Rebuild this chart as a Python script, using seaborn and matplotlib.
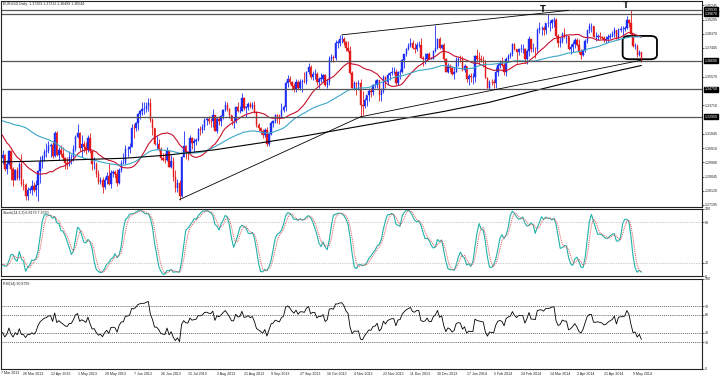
import numpy as np
import pandas as pd
import matplotlib
matplotlib.use("Agg")
import matplotlib.pyplot as plt
import seaborn as sns
from matplotlib.patches import FancyBboxPatch

sns.set_theme(style="white")
plt.rcParams['font.family'] = ['Liberation Sans', 'DejaVu Sans']

# ---------------- data (EURUSD daily) ----------------
history_start = "2012-12-03"   # closes before the candles, used for the averages/RSI
start_date = "2013-02-19"
end_date = "2014-05-15"

history_close = [
 1.3055,1.3115,1.3065,1.2930,1.2925, 1.2945,1.3005,1.3075,1.3070,1.3160, 1.3165,1.3245,1.3275,1.3235,1.3185,
 1.3220,1.3220,1.3230,1.3220,1.3215, 1.3195,
 1.3200,1.3180,1.3050,1.3065, 1.3115,1.3080,1.3065,1.3275,1.3365, 1.3385,1.3315,1.3290,1.3385,1.3315,
 1.3325,1.3320,1.3310,1.3385,1.3460, 1.3450,1.3485,1.3565,1.3580,
 1.3640, 1.3510,1.3525,1.3525,1.3400,1.3365, 1.3395,1.3450,1.3455,1.3360,1.3360, 1.3360,
]

close = [
 1.3390,1.3280,1.3190,1.3190,1.3060,1.3060,1.3130,1.3055,1.3020,1.3020,1.3050,1.2985,
 1.3105,1.3005, 1.3025,1.3045,1.2955,1.2990,1.3075, 1.2955,1.2880,1.2945,1.2895,1.2990, 1.2855,1.2850,1.2775,1.2820,1.2820,
 1.2845,1.2815,1.2850,1.2940,1.3000, 1.3035,1.3065,1.3075,1.3105,1.3110, 1.3040,1.3190,1.3045,1.3080,1.3050, 1.3025,1.2995,1.2985,1.3030,1.3030, 1.3085,1.3165,
 1.3190,1.3090,1.3115, 1.3100,1.3080,1.3160,1.3070,1.2985, 1.2990,1.2920,1.2870,1.2880,1.2835, 1.2880,1.2910,1.2855,1.2930,1.2935, 1.2925,1.2860,1.2945,1.2995,1.2995,
 1.3085,1.3085,1.3100,1.3225,1.3220, 1.3255,1.3315,1.3335,1.3345,1.3345, 1.3365,1.3385,1.3275,1.3220,1.3120, 1.3120,1.3085,1.3025,1.3015,1.3010,
 1.3075,1.2970,1.3005,1.2905,1.2830, 1.2860,1.2775,1.3030,1.3105,1.3065, 1.3060,1.3160,1.3125,1.3135,1.3145, 1.3215,1.3210,1.3230,1.3275,1.3280, 1.3270,1.3265,1.3305,
 1.3205,1.3280, 1.3265,1.3300,1.3340,1.3375,1.3345, 1.3310,1.3265,1.3265,1.3360,1.3330, 1.3335,1.3420,1.3355,1.3360,1.3380, 1.3360,1.3375,1.3325,1.3240,1.3220,
 1.3200,1.3175,1.3210,1.3115,1.3180, 1.3255,1.3265,1.3305,1.3295,1.3285, 1.3340,1.3360,1.3515,1.3545,1.3525, 1.3495,1.3475,1.3525,1.3485,1.3525, 1.3525,
 1.3520,1.3585,1.3620,1.3555, 1.3575,1.3575,1.3525,1.3545,1.3545, 1.3565,1.3505,1.3525,1.3675,1.3685, 1.3680,1.3780,1.3780,1.3800,1.3805, 1.3785,1.3745,1.3725,1.3580,
 1.3485, 1.3515,1.3510,1.3515,1.3375,1.3365, 1.3405,1.3435,1.3465,1.3460,1.3500, 1.3505,1.3535,1.3440,1.3465,1.3555, 1.3520,1.3565,1.3580,1.3590,1.3590,
 1.3515,1.3585,1.3590,1.3665,1.3705, 1.3740,1.3760,1.3780,1.3745,1.3740, 1.3765,1.3765,1.3680,1.3670,1.3675, 1.3705,1.3675,1.3675,1.3725,1.3745, 1.3800,1.3745,
 1.3765,1.3670,1.3590, 1.3630,1.3615,1.3575,1.3590,1.3665, 1.3675,1.3670,1.3600,1.3625,1.3540, 1.3560,1.3555,1.3555,1.3690,1.3675, 1.3670,1.3665,1.3660,1.3550,1.3485,
 1.3525,1.3520,1.3515,1.3590,1.3635, 1.3645,1.3635,1.3590,1.3675,1.3695, 1.3705,1.3770,1.3735,1.3715,1.3740, 1.3740,1.3740,1.3675,1.3725,1.3805,
 1.3740,1.3740,1.3735,1.3865,1.3875, 1.3875,1.3865,1.3905,1.3905,1.3910, 1.3925,1.3930,1.3825,1.3780,1.3790, 1.3835,1.3825,1.3825,1.3740,1.3750, 1.3770,
 1.3795,1.3765,1.3715,1.3700, 1.3730,1.3790,1.3860,1.3885,1.3885, 1.3815,1.3815,1.3820,1.3815,1.3810, 1.3795,1.3800,1.3815,1.3825,1.3835, 1.3860,1.3810,1.3865,
 1.3870,1.3870, 1.3875,1.3925,1.3905,1.3835,1.3755, 1.3760,1.3700,1.3720,1.36544,
]
high = [
 1.3400,1.3405,1.3290,1.3245,1.3320,1.3090,1.3160,1.3145,1.3060,1.3055,1.3065,1.3085,
 1.3115,1.3110, 1.3045,1.3080,1.3055,1.3010,1.3080, 1.2970,1.2965,1.2955,1.2965,1.3000, 1.3050,1.2890,1.2865,1.2840,1.2840,
 1.2880,1.2870,1.2880,1.2950,1.3040, 1.3045,1.3085,1.3125,1.3140,1.3125, 1.3135,1.3200,1.3205,1.3100,1.3110, 1.3095,1.3035,1.3030,1.3070,1.3055, 1.3110,1.3175,
 1.3245,1.3195,1.3175, 1.3135,1.3130,1.3175,1.3190,1.3075, 1.3030,1.3000,1.2950,1.2905,1.2900, 1.2905,1.2935,1.2995,1.2945,1.2950, 1.2945,1.2955,1.2960,1.3010,1.3060,
 1.3110,1.3105,1.3125,1.3250,1.3245, 1.3260,1.3320,1.3340,1.3390,1.3390, 1.3395,1.3415,1.3415,1.3285,1.3225, 1.3170,1.3150,1.3095,1.3060,1.3060,
 1.3095,1.3080,1.3045,1.3035,1.2945, 1.2890,1.2885,1.3040,1.3205,1.3110, 1.3075,1.3175,1.3165,1.3155,1.3160, 1.3220,1.3235,1.3245,1.3285,1.3295, 1.3300,1.3285,1.3345,
 1.3310,1.3295, 1.3295,1.3305,1.3345,1.3400,1.3390, 1.3350,1.3310,1.3295,1.3365,1.3395, 1.3365,1.3450,1.3425,1.3365,1.3395, 1.3395,1.3390,1.3400,1.3335,1.3255,
 1.3230,1.3215,1.3220,1.3230,1.3190, 1.3265,1.3275,1.3315,1.3315,1.3315, 1.3385,1.3370,1.3530,1.3570,1.3560, 1.3530,1.3515,1.3540,1.3535,1.3545, 1.3545,
 1.3585,1.3595,1.3645,1.3635, 1.3595,1.3605,1.3590,1.3555,1.3580, 1.3575,1.3575,1.3540,1.3690,1.3705, 1.3700,1.3795,1.3795,1.3830,1.3830, 1.3815,1.3790,1.3790,1.3760,
 1.3595, 1.3530,1.3525,1.3535,1.3545,1.3465, 1.3420,1.3440,1.3485,1.3480,1.3510, 1.3535,1.3545,1.3530,1.3480,1.3565, 1.3560,1.3580,1.3590,1.3620,1.3620,
 1.3605,1.3595,1.3610,1.3675,1.3705, 1.3745,1.3775,1.3810,1.3795,1.3775, 1.3785,1.3790,1.3810,1.3695,1.3710, 1.3710,1.3715,1.3685,1.3730,1.3895, 1.3810,1.3815,
 1.3770,1.3775,1.3680, 1.3645,1.3640,1.3625,1.3620,1.3685, 1.3685,1.3700,1.3690,1.3640,1.3625, 1.3575,1.3580,1.3580,1.3700,1.3740, 1.3720,1.3700,1.3690,1.3665,1.3555,
 1.3535,1.3540,1.3540,1.3620,1.3645, 1.3665,1.3685,1.3645,1.3685,1.3705, 1.3715,1.3775,1.3775,1.3740,1.3745, 1.3770,1.3770,1.3745,1.3735,1.3825,
 1.3790,1.3775,1.3750,1.3875,1.3915, 1.3885,1.3885,1.3910,1.3967,1.3925, 1.3935,1.3945,1.3940,1.3835,1.3815, 1.3850,1.3875,1.3835,1.3815,1.3770, 1.3790,
 1.3810,1.3810,1.3805,1.3740, 1.3735,1.3800,1.3865,1.3905,1.3905, 1.3885,1.3850,1.3835,1.3850,1.3825, 1.3825,1.3825,1.3835,1.3840,1.3855, 1.3880,1.3865,1.3875,
 1.3885,1.3890, 1.3885,1.3950,1.3935,1.3993,1.3835, 1.3775,1.3770,1.3730,1.37212,
]
low = [
 1.3320,1.3265,1.3145,1.3150,1.3040,1.2970,1.3050,1.3050,1.2965,1.2985,1.2995,1.2965,
 1.2975,1.2955, 1.2985,1.2990,1.2940,1.2925,1.2980, 1.2880,1.2845,1.2880,1.2880,1.2880, 1.2845,1.2820,1.2750,1.2750,1.2800,
 1.2785,1.2805,1.2780,1.2745,1.2865, 1.2960,1.3005,1.3035,1.3060,1.3035, 1.3025,1.3030,1.3040,1.3010,1.3040, 1.3015,1.2955,1.2955,1.2975,1.2985, 1.3005,1.3070,
 1.3160,1.3075,1.3030, 1.3065,1.3055,1.3065,1.3060,1.2950, 1.2955,1.2905,1.2855,1.2855,1.2800, 1.2825,1.2855,1.2850,1.2830,1.2905, 1.2895,1.2845,1.2855,1.2935,1.2985,
 1.2985,1.3035,1.3060,1.3095,1.3160, 1.3205,1.3210,1.3280,1.3305,1.3315, 1.3325,1.3335,1.3260,1.3175,1.3110, 1.3085,1.3075,1.3015,1.3005,1.2995,
 1.3005,1.2965,1.2960,1.2875,1.2805, 1.2805,1.2755,1.2770,1.3030,1.3020, 1.3015,1.3050,1.3085,1.3065,1.3110, 1.3140,1.3175,1.3190,1.3210,1.3240, 1.3250,1.3230,1.3230,
 1.3200,1.3190, 1.3240,1.3235,1.3280,1.3335,1.3335, 1.3290,1.3240,1.3225,1.3255,1.3325, 1.3320,1.3330,1.3340,1.3295,1.3340, 1.3350,1.3345,1.3320,1.3230,1.3205,
 1.3180,1.3160,1.3165,1.3105,1.3105, 1.3175,1.3230,1.3255,1.3255,1.3250, 1.3310,1.3325,1.3335,1.3490,1.3510, 1.3470,1.3455,1.3455,1.3475,1.3470, 1.3460,
 1.3515,1.3510,1.3575,1.3545, 1.3535,1.3545,1.3505,1.3485,1.3525, 1.3525,1.3495,1.3485,1.3505,1.3655, 1.3650,1.3665,1.3745,1.3760,1.3780, 1.3765,1.3725,1.3715,1.3575,
 1.3480, 1.3470,1.3440,1.3470,1.3295,1.3310, 1.3355,1.3365,1.3400,1.3425,1.3440, 1.3480,1.3480,1.3400,1.3400,1.3450, 1.3485,1.3505,1.3535,1.3570,1.3575,
 1.3505,1.3505,1.3545,1.3580,1.3615, 1.3690,1.3730,1.3750,1.3735,1.3710, 1.3725,1.3750,1.3680,1.3625,1.3640, 1.3660,1.3670,1.3670,1.3670,1.3715, 1.3735,1.3740,
 1.3740,1.3650,1.3585, 1.3580,1.3590,1.3570,1.3545,1.3585, 1.3630,1.3650,1.3595,1.3585,1.3525, 1.3505,1.3525,1.3510,1.3525,1.3655, 1.3640,1.3650,1.3620,1.3550,1.3480,
 1.3475,1.3500,1.3480,1.3480,1.3560, 1.3615,1.3625,1.3570,1.3560,1.3660, 1.3680,1.3695,1.3730,1.3645,1.3700, 1.3715,1.3710,1.3645,1.3640,1.3695,
 1.3715,1.3715,1.3680,1.3715,1.3845, 1.3830,1.3830,1.3835,1.3880,1.3855, 1.3875,1.3880,1.3815,1.3750,1.3750, 1.3780,1.3810,1.3780,1.3730,1.3705, 1.3720,
 1.3745,1.3755,1.3705,1.3670, 1.3690,1.3715,1.3780,1.3845,1.3850, 1.3815,1.3790,1.3795,1.3805,1.3800, 1.3785,1.3780,1.3785,1.3800,1.3815, 1.3815,1.3800,1.3795,
 1.3850,1.3820, 1.3855,1.3870,1.3880,1.3830,1.3750, 1.3735,1.3685,1.3690,1.36499,
]

ma_slow_dates = ["2013-03-07","2013-04-01","2013-05-01","2013-06-03","2013-07-01","2013-08-01",
                 "2013-09-02","2013-10-01","2013-11-01","2013-12-02","2014-01-02","2014-02-03",
                 "2014-03-03","2014-04-01","2014-05-01","2014-05-15"]
ma_slow_vals = [1.3000,1.3005,1.3015,1.3025,1.3045,1.3080,1.3125,1.3170,1.3225,1.3275,1.3330,
                1.3390,1.3460,1.3530,1.3600,1.3630]

# horizontal levels, trend lines and marks
h_levels = [1.3993, 1.3967, 1.3660, 1.3475, 1.3295]
trend_lines = [
    (("2013-07-09", 1.2755), ("2013-11-07", 1.3295)),
    (("2013-11-07", 1.3295), ("2014-05-15", 1.3665)),
    (("2013-10-25", 1.3830), ("2014-03-27", 1.3990)),
]
top_marks = [("2014-03-13", 1.3967), ("2014-05-08", 1.3993)]
box_dates = ("2014-05-07", "2014-05-15")
box_prices = (1.3671, 1.3823)

price_ticks = [1.27195,1.28120,1.29045,1.29980,1.30910,1.31845,1.33710,
               1.35570,1.37445,1.38370,1.39295,1.40245]
first_date_label = "2013-03-07"
date_labels = ["2013-03-26","2013-04-12","2013-05-01","2013-05-20","2013-06-07",
               "2013-06-26","2013-07-15","2013-08-02","2013-08-21","2013-09-09","2013-09-27",
               "2013-10-16","2013-11-04","2013-11-22","2013-12-11","2013-12-30","2014-01-17",
               "2014-02-05","2014-02-24","2014-03-14","2014-04-02","2014-04-21","2014-05-09"]

# ---------------- build frames ----------------
dates = pd.bdate_range(start_date, end_date)
assert len(dates) == len(close) == len(high) == len(low), (len(dates), len(close), len(high), len(low))
hist_dates = pd.bdate_range(history_start, dates[0] - pd.Timedelta(days=1))
assert len(hist_dates) == len(history_close), (len(hist_dates), len(history_close))

full = pd.DataFrame({"date": hist_dates.append(dates), "close": history_close + close})
full["x"] = np.arange(len(full)) - len(hist_dates)
full["ma_fast"] = full["close"].rolling(21, min_periods=1).mean()
full["ma_mid"] = full["close"].rolling(55, min_periods=1).mean()
delta = full["close"].diff().fillna(0)
up = delta.clip(lower=0).ewm(alpha=1/14, adjust=False).mean()
dn = (-delta.clip(upper=0)).ewm(alpha=1/14, adjust=False).mean()
full["rsi"] = 100 - 100 / (1 + up / dn.replace(0, np.nan))

df = pd.DataFrame({"date": dates, "close": close, "high": high, "low": low})
df["x"] = np.arange(len(df))
df["open"] = df["close"].shift(1).fillna(history_close[-1])
df.loc[df.index[-1], "open"] = 1.37203
df["hi"] = df[["high", "open", "close"]].max(axis=1)
df["lo"] = df[["low", "open", "close"]].min(axis=1)

# stochastic 14,3,3
ll = df["low"].rolling(14, min_periods=1).min()
hh = df["high"].rolling(14, min_periods=1).max()
num = (df["close"] - ll).rolling(3, min_periods=1).sum()
den = (hh - ll).rolling(3, min_periods=1).sum()
df["stoch_k"] = 100 * num / den
df["stoch_d"] = df["stoch_k"].rolling(3, min_periods=1).mean()

date_to_x = dict(zip(df["date"].dt.strftime("%Y-%m-%d"), df["x"]))
x_ref = date_to_x["2013-03-26"]
px_per_bar = (633 - 23) / (date_to_x["2014-05-09"] - x_ref)
x_left = x_ref - 23 / px_per_bar
x_right = x_ref + (702 - 23) / px_per_bar

slow = pd.DataFrame({"x": [date_to_x[d] for d in ma_slow_dates], "v": ma_slow_vals})
vis = full[full["x"] >= x_left - 3]

# ---------------- figure ----------------
W, H = 720, 378
fig = plt.figure(figsize=(W / 100, H / 100), dpi=100)
fig.patch.set_facecolor("white")

def axes_px(top, bottom):
    return fig.add_axes([0.5 / W, 1 - bottom / H, (702 - 0.5) / W, (bottom - top) / H])

ax1 = axes_px(1, 207)
ax2 = axes_px(209, 276)
ax3 = axes_px(279, 369)

fs = 2.6
bull, bear = "#1b2df5", "#e31a1a"

# candles
up_m = df["close"] >= df["open"]
for m, col in ((up_m, bull), (~up_m, bear)):
    d = df[m]
    ax1.vlines(d["x"], d["lo"], d["hi"], color=col, lw=0.6)
    ax1.bar(d["x"], (d["close"] - d["open"]).abs().clip(lower=0.00008),
            bottom=d[["open", "close"]].min(axis=1), width=0.68, color=col, edgecolor=col, lw=0.3)

sns.lineplot(data=vis, x="x", y="ma_fast", ax=ax1, color="#c8102e", lw=0.8, legend=False)
sns.lineplot(data=vis, x="x", y="ma_mid", ax=ax1, color="#3aa6c8", lw=0.8, legend=False)
sns.lineplot(data=slow, x="x", y="v", ax=ax1, color="black", lw=0.8, legend=False)

for lv in h_levels:
    ax1.axhline(lv, color="#555555", lw=0.9)
for (d0, p0), (d1, p1) in trend_lines:
    ax1.plot([date_to_x[d0], date_to_x[d1]], [p0, p1], color="black", lw=0.6)
for d, p in top_marks:
    ax1.text(date_to_x[d] - 2.5, p, "T", fontsize=6, fontweight="bold", color="#111111",
             ha="center", va="bottom", family="DejaVu Sans")
bx0, bx1 = date_to_x[box_dates[0]] - 3, date_to_x[box_dates[1]] + 7.5
ax1.add_patch(FancyBboxPatch((bx0, box_prices[0]), bx1 - bx0, box_prices[1] - box_prices[0],
                             boxstyle="round,pad=0,rounding_size=3.2", fill=False,
                             ec="black", lw=1.3, mutation_aspect=0.0009))

ymin = 1.27195 - 2 / 1532
ymax = 1.27195 + 204 / 1532
ax1.set_ylim(ymin, ymax)

# stochastic panel
sns.lineplot(data=df, x="x", y="stoch_k", ax=ax2, color="#20b2aa", lw=0.8, legend=False)
sns.lineplot(data=df, x="x", y="stoch_d", ax=ax2, color="#e05050", lw=0.7, legend=False, linestyle=(0, (1, 1)))
for lv in (80, 20):
    ax2.axhline(lv, color="#999999", lw=0.5, linestyle=(0, (1, 1.5)))
ax2.set_ylim(0, 100)

# RSI panel
sns.lineplot(data=vis, x="x", y="rsi", ax=ax3, color="black", lw=0.6, legend=False)
for lv in (70, 60, 40, 30):
    ax3.axhline(lv, color="#333333", lw=0.5, linestyle=(0, (1.5, 1.5)))
ax3.set_ylim(0, 100)

for ax in (ax1, ax2, ax3):
    ax.set_xlim(x_left, x_right)
    ax.set_xlabel("")
    ax.set_ylabel("")
    ax.set_facecolor("white")
    for s in ax.spines.values():
        s.set_color("#222222")
        s.set_linewidth(0.8)
    ax.yaxis.tick_right()
    ax.tick_params(axis="y", direction="out", length=1.5, width=0.5, pad=0.8, labelsize=fs, colors="#222222")
    ax.set_xticks([])

ax1.set_yticks(price_ticks)
ax1.set_yticklabels([f"{t:.5f}" for t in price_ticks])
for lv in h_levels:
    ax1.text(1.0035, lv, f"{lv:.5f}", transform=ax1.get_yaxis_transform(), fontsize=fs, color="white",
             va="center", ha="left", bbox=dict(boxstyle="square,pad=0.12", fc="black", ec="black"), clip_on=False)
ax2.set_yticks([0, 20, 80, 100])
ax3.set_yticks([0, 30, 40, 60, 70, 100])

xt = [date_to_x[d] for d in date_labels]
ax3.set_xticks(xt)
ax3.set_xticklabels([pd.Timestamp(d).strftime("%-d %b %Y") for d in date_labels], ha="left")
ax3.tick_params(axis="x", direction="out", length=1.5, width=0.5, pad=0.8, labelsize=fs, colors="#222222")
fig.text(1 / W, 1 - 371 / H, pd.Timestamp(first_date_label).strftime("%-d %b %Y"), fontsize=fs,
         ha="left", va="top", color="#222222")

ax1.text(0.003, 0.997, "EURUSD,Daily  1.37203 1.37212 1.36499 1.36544", transform=ax1.transAxes,
         fontsize=fs, va="top", ha="left", color="#222222")
ax2.text(0.003, 0.97, "Stoch(14,3,3) 6.8179 7.3790", transform=ax2.transAxes,
         fontsize=fs, va="top", ha="left", color="#222222")
ax3.text(0.003, 0.97, "RSI(14) 30.8799", transform=ax3.transAxes,
         fontsize=fs, va="top", ha="left", color="#222222")

fig.savefig("out.png", dpi=100, facecolor="white")
